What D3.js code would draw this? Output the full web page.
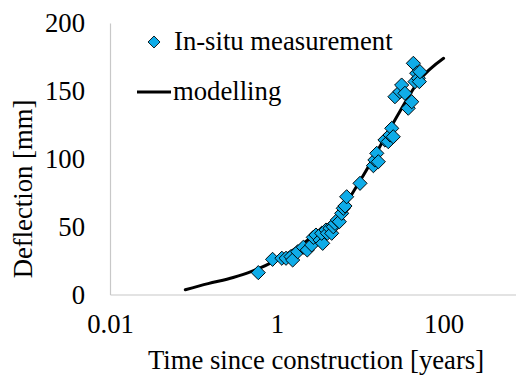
<!DOCTYPE html>
<html>
<head>
<meta charset="utf-8">
<script src="https://cdn.jsdelivr.net/npm/d3@7"></script>
<style>
  html, body { margin: 0; padding: 0; background: #fff; }
  svg { display: block; }
  text { font-family: "Liberation Serif", "Times New Roman", serif; }
</style>
</head>
<body>
<svg id="chart" width="516" height="378"></svg>
<script>
// In-situ measurements: time since construction [years], deflection [mm]
const measTime = [0.60, 0.89, 1.15, 1.29, 1.48, 1.55, 1.78, 2.08, 2.32, 2.62,
  2.74, 2.95, 3.30, 3.55, 3.45, 3.89, 4.04, 4.35, 4.55, 4.76,
  4.99, 5.32, 5.62, 6.00, 6.27, 6.57, 6.88, 9.95, 14.4, 15.0,
  15.8, 16.5, 19.8, 21.7, 22.8, 23.9, 24.9, 26.1, 30.0, 31.4,
  34.4, 37.7, 41.5, 43.4, 45.4, 47.6, 49.8, 51.2, 52.1];
const measDefl = [16.1, 25.9, 26.7, 26.7, 27.9, 25.4, 31.5, 34.8, 32.8, 36.5,
  42.1, 43.8, 40.1, 37.7, 45.1, 47.5, 45.1, 48.8, 45.1, 49.9,
  52.4, 54.9, 53.6, 59.8, 63.5, 65.2, 72.0, 81.9, 94.9, 99.1,
  104.0, 97.8, 113.8, 112.6, 117.5, 122.4, 116.2, 145.7, 149.4, 154.3,
  148.2, 137.2, 142.0, 170.3, 156.8, 163.0, 159.3, 156.8, 164.1];

// Modelling curve
const modelTime = [0.08, 0.15, 0.3, 0.5, 1, 2, 3, 5, 10, 20, 30, 50, 100];
const modelDefl = [3.5, 8, 12.5, 17, 25.5, 37, 45, 56, 84, 116, 135, 157, 174];

const xTicks = [0.01, 1, 100];
const yTicks = [0, 50, 100, 150, 200];

const svg = d3.select("#chart");
const FONT = "26.7px";
const SERIF = "'Liberation Serif', 'Times New Roman', serif";

const x = d3.scaleLog().domain([0.01, 1000]).range([110, 527]);
const y = d3.scaleLinear().domain([0, 200]).range([294.5, 23]);

// axes
const xAxis = svg.append("g")
  .attr("transform", "translate(0,294.5)")
  .call(d3.axisBottom(x).tickValues(xTicks).tickSize(0).tickPadding(20)
    .tickFormat(d => d === 0.01 ? "0.01" : String(d)));
xAxis.select(".domain").attr("stroke", "#c8c8c8").attr("stroke-width", 1.2);
xAxis.selectAll("text").style("font-size", FONT).style("font-family", SERIF).attr("fill", "#000");

const yAxis = svg.append("g")
  .attr("transform", "translate(110,0)")
  .call(d3.axisLeft(y).tickValues(yTicks).tickSize(0).tickPadding(25));
yAxis.select(".domain").attr("stroke", "#c8c8c8").attr("stroke-width", 1.2);
yAxis.selectAll("text").style("font-size", FONT).style("font-family", SERIF).attr("fill", "#000");

// model line
const modelData = modelTime.map((t, i) => [t, modelDefl[i]]);
svg.append("path")
  .datum(modelData)
  .attr("fill", "none")
  .attr("stroke", "#000")
  .attr("stroke-width", 3)
  .attr("stroke-linecap", "round")
  .attr("d", d3.line().x(d => x(d[0])).y(d => y(d[1])).curve(d3.curveMonotoneX));

// measurement markers
const diamond = d3.symbol().type(d3.symbolSquare).size(100);
const measData = measTime.map((t, i) => [t, measDefl[i]]);
svg.append("g").selectAll("path")
  .data(measData)
  .join("path")
  .attr("d", diamond)
  .attr("transform", d => `translate(${x(d[0])},${y(d[1])}) rotate(45)`)
  .attr("fill", "#0FACE8")
  .attr("stroke", "#000")
  .attr("stroke-width", 0.9);

// legend
svg.append("path")
  .attr("d", d3.symbol().type(d3.symbolSquare).size(72)())
  .attr("transform", "translate(154,42) rotate(45)")
  .attr("fill", "#0FACE8")
  .attr("stroke", "#000")
  .attr("stroke-width", 0.8);
svg.append("text").attr("x", 174).attr("y", 50).style("font-size", FONT).text("In-situ measurement");
svg.append("line").attr("x1", 137).attr("x2", 171).attr("y1", 92).attr("y2", 92)
  .attr("stroke", "#000").attr("stroke-width", 3);
svg.append("text").attr("x", 173).attr("y", 100).style("font-size", FONT).text("modelling");

// axis titles
svg.append("text").attr("x", 316).attr("y", 369).attr("text-anchor", "middle")
  .style("font-size", FONT).text("Time since construction [years]");
svg.append("text").attr("transform", "translate(32,189) rotate(-90)").attr("text-anchor", "middle")
  .style("font-size", FONT).text("Deflection [mm]");
</script>
</body>
</html>
